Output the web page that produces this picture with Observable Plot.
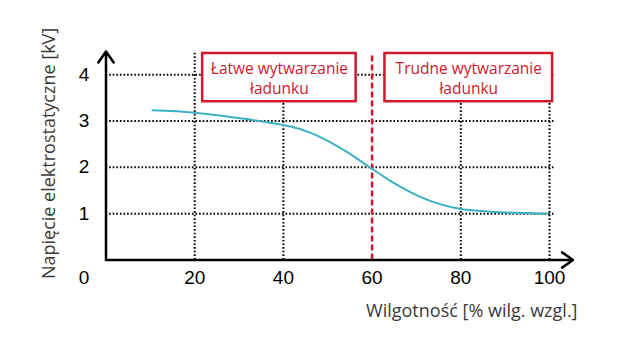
<!DOCTYPE html>
<html>
<head>
<meta charset="utf-8">
<script src="https://cdn.jsdelivr.net/npm/d3@7"></script>
<script src="https://cdn.jsdelivr.net/npm/@observablehq/plot@0.6"></script>
<style>
  html, body { margin: 0; padding: 0; background: #fff; }
  #chart { width: 620px; height: 340px; }
</style>
</head>
<body>
<div id="chart"></div>
<script>
// Curve data (humidity % vs electrostatic voltage kV)
const humidity = [10.5, 20, 32.5, 41.6, 46.1, 50.6, 54.4, 59.5, 64.1, 70.5, 75.5, 80, 89, 99.5];
const voltage  = [3.23, 3.18, 3.03, 2.88, 2.75, 2.54, 2.33, 2.0, 1.71, 1.38, 1.2, 1.1, 1.03, 1.0];

// Axis ticks
const xTicks = [20, 40, 60, 80, 100];
const yTicks = [1, 2, 3, 4];
const xGrid = [20, 40, 80, 100];
const threshold = [60];

// Annotation regions
const regionLabels = ["Łatwe wytwarzanie\nładunku", "Trudne wytwarzanie\nładunku"];
const regionStart = [21.8, 62.9];
const regionEnd = [56.4, 100.7];
const regionTop = 4.457;
const regionBottom = 3.416;

const xLabel = "Wilgotność [% wilg. wzgl.]";
const yLabel = "Napięcie elektrostatyczne [kV]";

const curve = humidity.map((h, i) => ({x: h, y: voltage[i]}));
const regions = regionLabels.map((t, i) => ({
  text: t, x1: regionStart[i], x2: regionEnd[i], y1: regionBottom, y2: regionTop,
  xm: (regionStart[i] + regionEnd[i]) / 2, ym: (regionBottom + regionTop) / 2
}));

const RED = "#d0192e";
const TEAL = "#3bb1c1";
const tickFont = "'Liberation Sans', Arial, sans-serif";
const titleFont = "'Open Sans', sans-serif";

const chart = Plot.plot({
  width: 620,
  height: 340,
  marginLeft: 105.5,
  marginRight: 71,
  marginTop: 51,
  marginBottom: 80.5,
  x: {domain: [0, 100], axis: null},
  y: {domain: [0, 4.5], axis: null},
  style: {background: "#fff", overflow: "visible"},
  marks: [
    // dotted grid
    Plot.ruleY(yTicks, {y: d => d, x1: 0, x2: 101, stroke: "#000", strokeWidth: 2, strokeDasharray: "1.6,2"}),
    Plot.ruleX(xGrid, {x: d => d, y1: 0, y2: 4.47, stroke: "#000", strokeWidth: 2, strokeDasharray: "1.6,2"}),
    // threshold dashed red line
    Plot.ruleX(threshold, {x: d => d, y1: 0, y2: 4.47, stroke: RED, strokeWidth: 2.5, strokeDasharray: "6,3"}),
    // curve
    Plot.line(curve, {x: "x", y: "y", stroke: TEAL, strokeWidth: 2, curve: "catmull-rom"}),
    // annotation boxes
    Plot.rect(regions, {x1: "x1", x2: "x2", y1: "y1", y2: "y2", fill: "#fff", stroke: RED, strokeWidth: 2.5}),
    Plot.text(regions, {x: "xm", y: "ym", text: "text", fill: RED, fontSize: 15.5, fontFamily: titleFont, lineHeight: 1.3}),
    // axes with arrows
    Plot.arrow([{x1: 0, y1: 0, x2: 105.3, y2: 0}], {x1: "x1", y1: "y1", x2: "x2", y2: "y2", stroke: "#000", strokeWidth: 2.5, headLength: 8, headAngle: 70}),
    Plot.arrow([{x1: 0, y1: 0, x2: 0, y2: 4.5}], {x1: "x1", y1: "y1", x2: "x2", y2: "y2", stroke: "#000", strokeWidth: 2.5, headLength: 8, headAngle: 70}),
    // tick labels
    Plot.text(xTicks, {x: d => d, y: 0, dy: 18, text: d => String(d), fontSize: 19, fontFamily: tickFont, fill: "#000"}),
    Plot.text(yTicks, {x: 0, y: d => d, dx: -22, text: d => String(d), fontSize: 19, fontFamily: tickFont, fill: "#000"}),
    Plot.text([0], {x: 0, y: 0, dx: -22, dy: 18, text: d => String(d), fontSize: 19, fontFamily: tickFont, fill: "#000"}),
    // axis titles
    Plot.text([xLabel], {x: 100, y: 0, dx: 28, dy: 51, text: d => d, textAnchor: "end", fontSize: 18, fontFamily: titleFont, fill: "#3a3a3a"}),
    Plot.text([yLabel], {x: 0, y: 2.3, dx: -57, text: d => d, rotate: -90, fontSize: 18, fontFamily: titleFont, fill: "#3a3a3a"})
  ]
});
document.getElementById("chart").appendChild(chart);
</script>
</body>
</html>
